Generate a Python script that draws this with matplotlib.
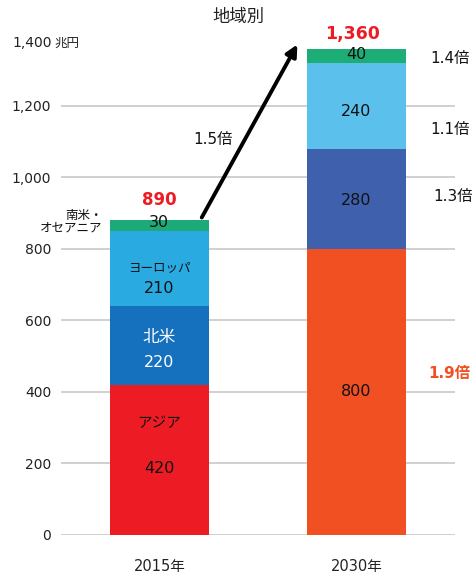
import matplotlib.pyplot as plt

plt.rcParams['font.family'] = ['DejaVu Sans', 'Noto Sans CJK JP']

years = ['2015年', '2030年']
regions = ['アジア', '北米', 'ヨーロッパ', '南米・\nオセアニア']
values_2015 = [420, 220, 210, 30]
values_2030 = [800, 280, 240, 40]
totals = ['890', '1,360']
ratios = ['1.9倍', '1.3倍', '1.1倍', '1.4倍']
growth = '1.5倍'
yticks = [0, 200, 400, 600, 800, 1000, 1200]

colors_2015 = ['#ED1C24', '#1570BE', '#29ABE2', '#1CAB78']
colors_2030 = ['#F15022', '#3F61AD', '#5BC0EB', '#1DAD76']

# label placement within each segment (fraction of segment height)
name_pos = [0.745, 0.61, 0.51]
name_size = [10.5, 12, 9]
num_pos_2015 = [0.44, 0.29, 0.23, 0.77]
num_pos_2030 = [0.5, 0.48, 0.43, 0.58]

fig = plt.figure(figsize=(4.75, 5.76), dpi=100)
ax = fig.add_axes([0.128, 0.0712, 0.830, 0.869])

width = 0.5
bottom = 0
for i, (v, c) in enumerate(zip(values_2015, colors_2015)):
    ax.bar(0, v, width, bottom=bottom, color=c, zorder=2)
    tc = 'white' if i == 1 else '#111111'
    if i < 3:
        ax.text(0, bottom + v * name_pos[i], regions[i], ha='center',
                va='center', fontsize=name_size[i], color=tc)
    ax.text(0, bottom + v * num_pos_2015[i], str(v), ha='center',
            va='center', fontsize=11.5, color=tc)
    bottom += v
top_2015 = bottom

bottom = 0
for i, (v, c) in enumerate(zip(values_2030, colors_2030)):
    ax.bar(1, v, width, bottom=bottom, color=c, zorder=2)
    ax.text(1, bottom + v * num_pos_2030[i], str(v), ha='center',
            va='center', fontsize=11.5, color='#111111')
    bottom += v
top_2030 = bottom

# south america / oceania label to the left of the first bar
ax.text(-0.29, top_2015 - 5, regions[3], ha='right', va='center',
        fontsize=9, color='#111111', linespacing=0.95)

# totals
ax.text(0, top_2015 + 57, totals[0], ha='center', va='center',
        fontsize=12, fontweight='bold', color='#ED1C24')
ax.text(0.98, top_2030 + 40, totals[1], ha='center', va='center',
        fontsize=12.5, fontweight='bold', color='#ED1C24')

# growth ratios on the right
ratio_y = [453, 948, 1133, 1334]
ratio_x = [1.47, 1.49, 1.475, 1.475]
for r, x, y in zip(ratios, ratio_x, ratio_y):
    if r == '1.9倍':
        ax.text(x, y, r, ha='center', va='center', fontsize=11,
                fontweight='bold', color='#F15022')
    else:
        ax.text(x, y, r, ha='center', va='center', fontsize=11,
                color='#111111')

# arrow between totals
ax.annotate('', xy=(0.70, 1372), xytext=(0.215, top_2015 + 8),
            arrowprops=dict(arrowstyle='-|>', color='black', lw=2.8,
                            mutation_scale=17, shrinkA=0, shrinkB=0))
ax.text(0.27, 1105, growth, ha='center', va='center', fontsize=11,
        color='#111111')

ax.set_xlim(-0.5, 1.5)
ax.set_ylim(0, 1400)
ax.set_yticks(yticks)
ax.set_yticklabels([f'{t:,}' for t in yticks], fontsize=10, color='#222222')
ax.text(-0.546, 1376, '1,400', ha='right', va='center', fontsize=10,
        color='#222222')
ax.text(-0.531, 1376, '兆円', ha='left', va='center', fontsize=9,
        color='#222222')
ax.set_xticks([0, 1])
ax.set_xticklabels(years, fontsize=10.5, color='#222222')
ax.tick_params(axis='x', length=0, pad=17)
ax.tick_params(axis='y', length=0, pad=7)
ax.yaxis.grid(True, color='#C8C8C8', lw=1.2, zorder=0)
for s in ax.spines.values():
    s.set_visible(False)

fig.text(0.502, 0.97, '地域別', ha='center', va='center', fontsize=12.5,
         color='#222222')

fig.savefig('out.png', dpi=100)
